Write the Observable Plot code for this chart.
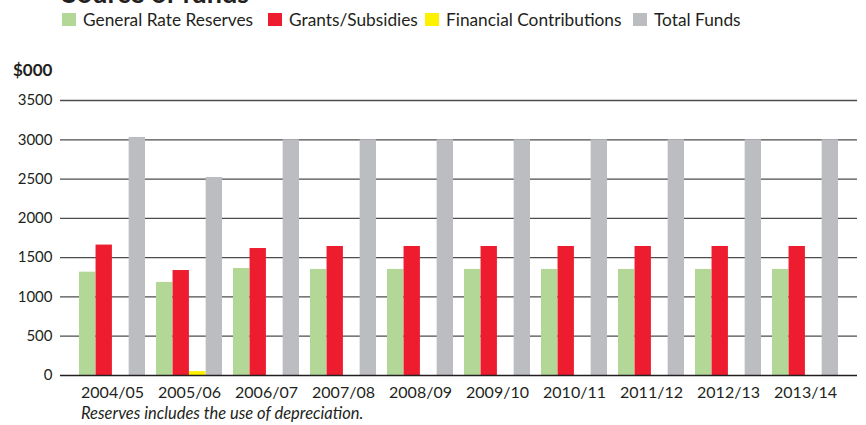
<!DOCTYPE html>
<html><head><meta charset="utf-8">
<script src="https://cdn.jsdelivr.net/npm/d3@7"></script>
<script src="https://cdn.jsdelivr.net/npm/@observablehq/plot@0.6"></script>
<style>
body{margin:0;background:#fff;font-family:Lato,"Open Sans",sans-serif;color:#231f20;}
#wrap{position:relative;width:866px;height:425px;overflow:hidden;}
#chart{position:absolute;left:0;top:0;}
.title{position:absolute;left:62px;top:-21px;font-size:27px;font-weight:bold;line-height:1;white-space:nowrap;}
.li{position:absolute;top:11px;font-size:17.3px;line-height:17px;display:flex;align-items:center;white-space:nowrap;}
.sw{width:14px;height:13px;margin-right:7px;}
.unit{position:absolute;left:13px;top:61px;font-size:17px;font-weight:bold;line-height:1;}
.note{position:absolute;left:81px;top:405px;font-size:16.5px;font-style:italic;line-height:1;white-space:nowrap;}
</style>
</head><body>
<div id="wrap">
  <div id="chart"></div>
  <div class="title">Source of funds</div>
  <div id="legend"></div>
  <div class="unit">$000</div>
  <div class="note">Reserves includes the use of depreciation.</div>
</div>
<script>
const years = ["2004/05","2005/06","2006/07","2007/08","2008/09","2009/10","2010/11","2011/12","2012/13","2013/14"];
const seriesNames = ["General Rate Reserves","Grants/Subsidies","Financial Contributions","Total Funds"];
const seriesColors = ["#b2d797","#ed1c2e","#fff200","#bcbdc0"];
const reserves = [1315,1185,1362,1350,1350,1350,1350,1350,1350,1350];
const grants = [1660,1336,1616,1642,1642,1642,1642,1642,1642,1642];
const contributions = [0,50,0,0,0,0,0,0,0,0];
const totalFunds = [3030,2520,3000,3000,3000,3000,3000,3000,3000,3000];
const yTicks = [0,500,1000,1500,2000,2500,3000,3500];

const seriesValues = [reserves, grants, contributions, totalFunds];

// layout
const W = 866, H = 425, mL = 60, mR = 9, mT = 100, mB = 50;
const xInsetL = 7, xInsetR = 7, xPad = 0.1425;
const step = (W - mL - mR - xInsetL - xInsetR) / (years.length + xPad);
const bw = step * (1 - xPad);
const barW = bw / seriesNames.length;

const barMarks = seriesValues.map((vals, i) => {
  const data = years.map((y, j) => ({year: y, value: vals[j]}));
  return Plot.barY(data.filter(d => d.value > 0), {
    x: "year", y: "value", fill: seriesColors[i],
    insetLeft: i * barW, insetRight: (seriesNames.length - 1 - i) * barW
  });
});

const chart = Plot.plot({
  width: W, height: H,
  marginLeft: mL, marginRight: mR, marginTop: mT, marginBottom: mB,
  style: {fontFamily: "Lato, 'Open Sans', sans-serif", color: "#231f20", background: "transparent"},
  x: {type: "band", domain: years, padding: xPad, insetLeft: xInsetL, insetRight: xInsetR},
  y: {domain: [0, 3500]},
  marks: [
    Plot.ruleY(yTicks.filter(d => d > 0), {stroke: "#4d4d4f", strokeWidth: 1.3}),
    ...barMarks,
    Plot.ruleY([0], {stroke: "#231f20", strokeWidth: 1.5}),
    Plot.axisY({ticks: yTicks, tickSize: 0, tickPadding: 8, fontSize: 15, label: null, tickFormat: d => String(d)}),
    Plot.axisX({tickSize: 0, tickPadding: 11, fontSize: 16, label: null})
  ]
});
document.getElementById("chart").appendChild(chart);

// legend
const legendX = [62, 268, 425, 633];
const legend = document.getElementById("legend");
seriesNames.forEach((name, i) => {
  const item = document.createElement("div");
  item.className = "li";
  item.style.left = legendX[i] + "px";
  const sw = document.createElement("span");
  sw.className = "sw";
  sw.style.background = seriesColors[i];
  item.appendChild(sw);
  item.appendChild(document.createTextNode(name));
  legend.appendChild(item);
});
</script>
</body></html>
